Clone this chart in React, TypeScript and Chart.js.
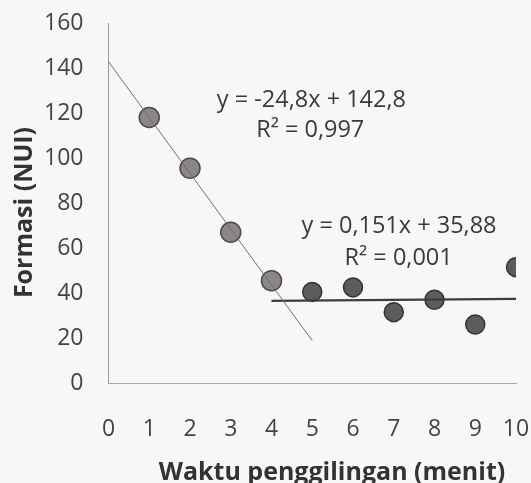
import React, { useEffect, useRef } from "react";
import { Chart, registerables } from "chart.js";

Chart.register(...registerables);

// Data
const timesA = [1, 2, 3, 4];
const formasiA = [118, 95.5, 67, 45.5];
const timesB = [5, 6, 7, 8, 9, 10];
const formasiB = [40.5, 42.5, 31.5, 37, 26, 51.5];

// Trendlines (y = m x + b) and x-extent
const trendSlopes = [-24.8, 0.151];
const trendIntercepts = [142.8, 35.88];
const trendStarts = [0, 4];
const trendEnds = [5, 10];

// Annotations: text and anchor in data coordinates
const labelTexts = ["y = -24,8x + 142,8", "R\u00B2 = 0,997", "y = 0,151x + 35,88", "R\u00B2 = 0,001"];
const labelX = [4.98, 4.95, 7.13, 7.12];
const labelY = [125.8, 112.5, 69.5, 55.3];

const xTicks = [0, 1, 2, 3, 4, 5, 6, 7, 8, 9, 10];
const yMin = 0;
const yMax = 160;
const yStep = 20;

const xTitle = "Waktu penggilingan (menit)";
const yTitle = "Formasi (NUI)";

const FONT = "'Open Sans', 'DejaVu Sans', sans-serif";

export default function App() {
  const ref = useRef<HTMLCanvasElement | null>(null);

  useEffect(() => {
    if (!ref.current) return;

    const trendData = trendSlopes.map((m, i) => [
      { x: trendStarts[i], y: m * trendStarts[i] + trendIntercepts[i] },
      { x: trendEnds[i], y: m * trendEnds[i] + trendIntercepts[i] },
    ]);

    const bgPlugin = {
      id: "bg",
      beforeDraw(chart: any) {
        const c = chart.ctx;
        c.save();
        c.fillStyle = "#f7f7f5";
        c.fillRect(0, 0, chart.width, chart.height);
        c.restore();
      },
    };

    const annotPlugin = {
      id: "annot",
      afterDatasetsDraw(chart: any) {
        const c = chart.ctx;
        const xs = chart.scales.x;
        const ys = chart.scales.y;
        c.save();
        c.font = `23.5px ${FONT}`;
        c.fillStyle = "#3a3a3a";
        c.textAlign = "center";
        c.textBaseline = "middle";
        labelTexts.forEach((t, i) => {
          c.fillText(t, xs.getPixelForValue(labelX[i]), ys.getPixelForValue(labelY[i]));
        });
        c.restore();
      },
    };

    const titlePlugin = {
      id: "axisTitles",
      afterDraw(chart: any) {
        const c = chart.ctx;
        c.save();
        c.font = `bold 25px ${FONT}`;
        c.fillStyle = "#333";
        c.textAlign = "center";
        c.textBaseline = "alphabetic";
        c.fillText(xTitle, 332, 480);
        c.translate(31.5, 212.5);
        c.rotate(-Math.PI / 2);
        c.fillText(yTitle, 0, 0);
        c.restore();
      },
    };

    const chart = new Chart(ref.current, {
      type: "scatter",
      data: {
        datasets: [
          {
            label: "trend1",
            type: "line",
            data: trendData[0],
            borderColor: "#6f6f6f",
            borderWidth: 1,
            pointRadius: 0,
            order: 0,
          },
          {
            label: "trend2",
            type: "line",
            data: trendData[1],
            borderColor: "#3c3c3c",
            borderWidth: 2.2,
            pointRadius: 0,
            order: 0,
          },
          {
            label: "A",
            data: timesA.map((x, i) => ({ x, y: formasiA[i] })),
            backgroundColor: "#8c8686",
            borderColor: "#4a4a4a",
            borderWidth: 1.5,
            pointRadius: 10,
            order: 1,
          },
          {
            label: "B",
            data: timesB.map((x, i) => ({ x, y: formasiB[i] })),
            backgroundColor: "#5c5c5c",
            borderColor: "#333333",
            borderWidth: 1.5,
            pointRadius: 9.5,
            order: 1,
          },
        ],
      } as any,
      options: {
        animation: false,
        responsive: false,
        devicePixelRatio: 1,
        layout: { padding: { left: 0, right: 15, top: 23, bottom: 0 } },
        plugins: {
          legend: { display: false },
          tooltip: { enabled: false },
        },
        scales: {
          x: {
            type: "linear",
            min: 0,
            max: 10,
            afterBuildTicks: (s: any) => {
              s.ticks = xTicks.map((v) => ({ value: v }));
            },
            afterFit: (s: any) => {
              s.height = 100;
              s.paddingLeft = 0;
              s.paddingRight = 0;
            },
            grid: { display: false, drawTicks: false },
            border: { display: true, color: "#a8a8a8", width: 1 },
            ticks: {
              padding: 33,
              color: "#444",
              font: { family: FONT, size: 23 },
            },
            title: { display: false },
          },
          y: {
            type: "linear",
            min: yMin,
            max: yMax,
            afterFit: (s: any) => {
              s.width = 108.5;
              s.paddingTop = 0;
              s.paddingBottom = 0;
            },
            ticks: {
              stepSize: yStep,
              padding: 25,
              color: "#444",
              font: { family: FONT, size: 23 },
            },
            grid: { display: false, drawTicks: false },
            border: { display: true, color: "#999", width: 1 },
            title: { display: false },
          },
        },
      } as any,
      plugins: [bgPlugin, annotPlugin, titlePlugin],
    });

    return () => chart.destroy();
  }, []);

  return (
    <div style={{ position: "fixed", left: 0, top: 0, width: 531, height: 483, background: "#f7f7f5" }}>
      <canvas ref={ref} width={531} height={483} style={{ display: "block" }} />
    </div>
  );
}
